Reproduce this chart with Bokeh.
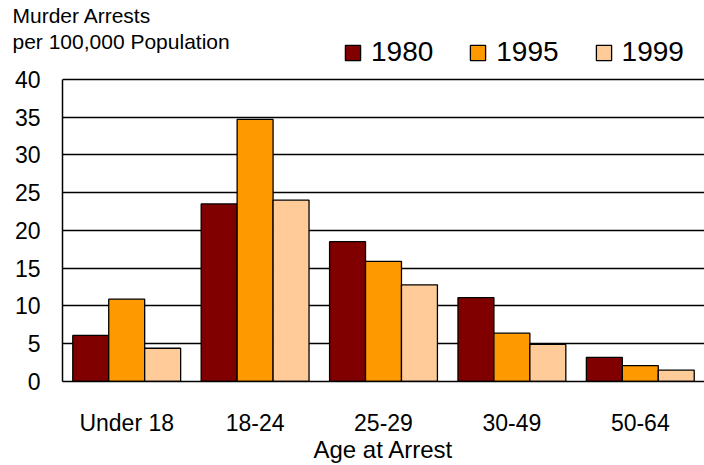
from bokeh.plotting import figure
from bokeh.models import (FactorRange, Range1d, Legend, LegendItem, Title,
                          ColumnDataSource, FixedTicker)
from bokeh.transform import dodge
from bokeh.embed import file_html
from bokeh.resources import INLINE

categories = ["Under 18", "18-24", "25-29", "30-49", "50-64"]
years = ["1980", "1995", "1999"]
rate_1980 = [6.1, 23.5, 18.5, 11.1, 3.2]
rate_1995 = [10.9, 34.7, 15.9, 6.4, 2.1]
rate_1999 = [4.4, 24.0, 12.8, 4.9, 1.5]
colors = ["#800000", "#FF9900", "#FFCC99"]
y_ticks = [0, 5, 10, 15, 20, 25, 30, 35, 40]

FONT = "Liberation Sans"

source = ColumnDataSource(dict(cat=categories, y1980=rate_1980,
                               y1995=rate_1995, y1999=rate_1999))

# frame extends above the 40 line so that the legend can sit inside it
p = figure(width=704, height=465, x_range=FactorRange(*categories, range_padding=0),
           y_range=Range1d(0, 45.92), output_backend="svg", toolbar_location=None,
           min_border_left=62, min_border_right=0, min_border_top=34,
           min_border_bottom=84)
p.outline_line_color = None
p.background_fill_color = "white"
p.border_fill_color = "white"

bw = 0.28
renderers = []
for i, (yr, col) in enumerate(zip(years, colors)):
    r = p.vbar(x=dodge("cat", (i - 1) * bw, range=p.x_range), top="y" + yr,
               width=bw, source=source, fill_color=col, line_color="black",
               line_width=1.3)
    renderers.append(r)

# axes
p.yaxis.ticker = FixedTicker(ticks=y_ticks)
p.yaxis.bounds = (0, 40)
p.yaxis.major_tick_line_color = None
p.yaxis.minor_tick_line_color = None
p.yaxis.axis_line_color = "black"
p.yaxis.axis_line_width = 1.5
p.yaxis.major_label_text_font = FONT
p.yaxis.major_label_text_font_size = "23px"
p.yaxis.major_label_text_color = "black"
p.yaxis.major_label_standoff = 16

p.xaxis.major_tick_line_color = None
p.xaxis.axis_line_color = "black"
p.xaxis.axis_line_width = 1.5
p.xaxis.major_label_text_font = FONT
p.xaxis.major_label_text_font_size = "23px"
p.xaxis.major_label_text_color = "black"
p.xaxis.major_label_standoff = 22
p.xaxis.axis_label = "Age at Arrest"
p.xaxis.axis_label_text_font = FONT
p.xaxis.axis_label_text_font_size = "24px"
p.xaxis.axis_label_text_font_style = "normal"
p.xaxis.axis_label_text_color = "black"
p.xaxis.axis_label_standoff = -3

p.xgrid.grid_line_color = None
p.ygrid.ticker = FixedTicker(ticks=y_ticks)
p.ygrid.grid_line_color = "black"
p.ygrid.grid_line_width = 1.3

# legend inside the (extended) frame, above the 40 line
legend = Legend(items=[LegendItem(label=yr, renderers=[r]) for yr, r in zip(years, renderers)],
                location=(281, 313), orientation="horizontal",
                glyph_width=19, glyph_height=19, label_standoff=9, spacing=35,
                padding=0, margin=0, border_line_color=None,
                background_fill_alpha=0, label_text_font=FONT,
                label_text_font_size="28px", label_text_color="black")
p.add_layout(legend)

# y-axis title (above panel)
p.add_layout(Title(text="Murder Arrests\nper 100,000 Population", align="left",
                   offset=-50, vertical_align="top", standoff=-41,
                   text_font=FONT, text_font_size="21px", text_font_style="normal",
                   text_color="black", text_line_height=1.11), "above")

open("out.html", "w").write(file_html(p, INLINE))
